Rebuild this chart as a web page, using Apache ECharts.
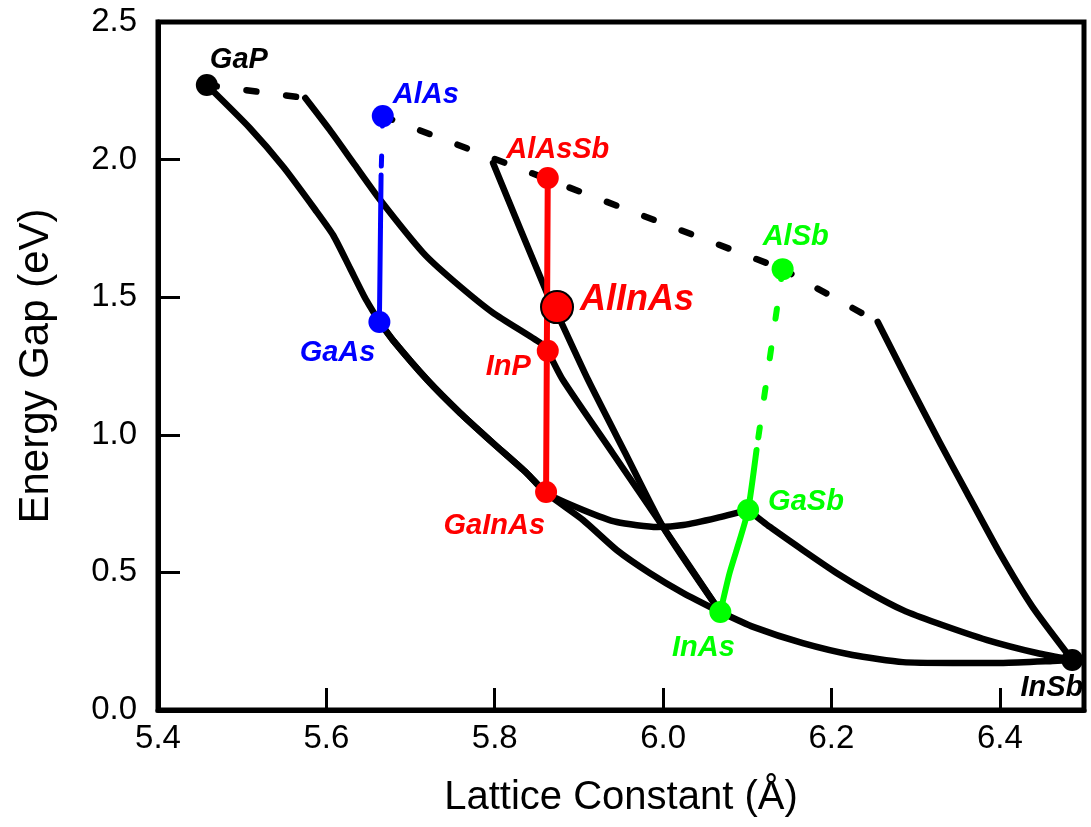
<!DOCTYPE html>
<html>
<head>
<meta charset="utf-8">
<title>Energy Gap vs Lattice Constant</title>
<script src="https://cdn.jsdelivr.net/npm/echarts@6.0.0/dist/echarts.min.js"></script>
<style>
  html, body { margin: 0; padding: 0; background: #fff; }
  #chart { width: 1091px; height: 827px; }
</style>
</head>
<body>
<div id="chart"></div>
<script>
// compounds shown as dots
const compounds = ['GaP', 'AlAs', 'GaAs', 'AlAsSb', 'AlInAs', 'InP', 'GaInAs', 'AlSb', 'GaSb', 'InAs', 'InSb']
const latticeConst = [5.458, 5.667, 5.663, 5.863, 5.874, 5.863, 5.861, 6.142, 6.101, 6.068, 6.486]
const energyGap = [2.271, 2.158, 1.410, 1.933, 1.464, 1.305, 0.792, 1.602, 0.727, 0.356, 0.182]

const xTicks = [5.4, 5.6, 5.8, 6.0, 6.2, 6.4]
const yTicks = [0.0, 0.5, 1.0, 1.5, 2.0, 2.5]

// alloy curves (x = lattice constant, y = gap)
const gaAsPX = [5.458, 5.509, 5.549, 5.587, 5.608, 5.628, 5.646, 5.663]
const gaAsPY = [2.271, 2.115, 1.973, 1.817, 1.726, 1.606, 1.497, 1.410]

const gaInAsX = [5.663, 5.679, 5.720, 5.759, 5.798, 5.838, 5.861, 5.905, 5.945, 5.984, 6.024, 6.068]
const gaInAsY = [1.410, 1.344, 1.199, 1.079, 0.970, 0.861, 0.789, 0.690, 0.581, 0.498, 0.425, 0.356]

const gaAsSbX = [5.663, 5.679, 5.720, 5.759, 5.798, 5.838, 5.861, 5.905, 5.945, 5.993, 6.024, 6.064, 6.101]
const gaAsSbY = [1.410, 1.344, 1.199, 1.079, 0.970, 0.861, 0.789, 0.727, 0.683, 0.665, 0.672, 0.698, 0.727]

const inAsSbX = [6.068, 6.107, 6.166, 6.225, 6.285, 6.344, 6.404, 6.463, 6.486]
const inAsSbY = [0.356, 0.302, 0.243, 0.200, 0.174, 0.171, 0.171, 0.178, 0.182]

const gaInSbX = [6.101, 6.127, 6.166, 6.206, 6.246, 6.285, 6.325, 6.385, 6.444, 6.486]
const gaInSbY = [0.727, 0.665, 0.581, 0.498, 0.425, 0.363, 0.316, 0.254, 0.207, 0.182]

const gaInPIndX = [5.458, 5.575]
const gaInPIndY = [2.271, 2.224]
const gaInPX = [5.575, 5.604, 5.634, 5.664, 5.715, 5.750, 5.798, 5.854, 5.863]
const gaInPY = [2.224, 2.108, 1.980, 1.853, 1.661, 1.562, 1.443, 1.334, 1.305]

const inAsPX = [5.863, 5.881, 5.940, 6.000, 6.068]
const inAsPY = [1.305, 1.199, 0.934, 0.665, 0.356]

const alInAsX = [5.798, 5.862, 5.875, 5.911, 5.955, 6.000, 6.068]
const alInAsY = [1.988, 1.515, 1.435, 1.199, 0.934, 0.665, 0.356]

const alAsSbIndX = [5.667, 6.142]
const alAsSbIndY = [2.158, 1.602]

const alInSbIndX = [6.142, 6.255]
const alInSbIndY = [1.602, 1.410]
const alInSbX = [6.255, 6.290, 6.329, 6.361, 6.400, 6.439, 6.486]
const alInSbY = [1.410, 1.199, 0.970, 0.789, 0.570, 0.374, 0.182]

// coloured lattice-matched lines
const alGaAsIndX = [5.667, 5.665]
const alGaAsIndY = [2.158, 1.944]
const alGaAsX = [5.665, 5.663]
const alGaAsY = [1.944, 1.410]

const onInPX = [5.863, 5.861]
const onInPY = [1.933, 0.792]

const onGaSbIndX = [6.142, 6.111]
const onGaSbIndY = [1.602, 0.945]
const onGaSbX = [6.111, 6.101, 6.091, 6.079, 6.068]
const onGaSbY = [0.945, 0.727, 0.618, 0.498, 0.356]

const BLUE = '#0000ff'
const RED = '#ff0000'
const GREEN = '#00ff00'
const BLACK = '#000000'
const FONT = '"Liberation Sans", Arial, sans-serif'

// dot colour + label placement
const dotStyle = {
  GaP: { color: BLACK, align: 'left', offset: [3, -25] },
  AlAs: { color: BLUE, align: 'left', offset: [10, -21] },
  GaAs: { color: BLUE, align: 'right', offset: [-4, 31] },
  AlAsSb: { color: RED, align: 'center', offset: [10, -28] },
  AlInAs: { color: RED, align: 'left', offset: [23, -7], size: 32, font: 36, border: true },
  InP: { color: RED, align: 'right', offset: [-17, 16] },
  GaInAs: { color: RED, align: 'right', offset: [-1, 34] },
  AlSb: { color: GREEN, align: 'left', offset: [-20, -32] },
  GaSb: { color: GREEN, align: 'left', offset: [20, -8] },
  InAs: { color: GREEN, align: 'center', offset: [-17, 36] },
  InSb: { color: BLACK, align: 'right', offset: [11, 28] }
}

const zip = (xs, ys) => xs.map((x, i) => [x, ys[i]])

const curve = (xs, ys, color, dashed, width) => ({
  type: 'line',
  data: zip(xs, ys),
  symbol: 'none',
  smooth: xs.length > 2 ? 0.2 : false,
  silent: true,
  lineStyle: {
    color: color,
    width: width || 6.5,
    type: dashed ? [10, 30] : 'solid',
    cap: 'round',
    join: 'round',
    opacity: 1
  }
})

const dots = compounds.map((name, i) => {
  const s = dotStyle[name]
  return {
    name: name,
    value: [latticeConst[i], energyGap[i]],
    symbolSize: s.size || 22,
    itemStyle: {
      color: s.color,
      opacity: 1,
      borderColor: s.border ? BLACK : s.color,
      borderWidth: s.border ? 2 : 0
    },
    label: {
      show: true,
      formatter: '{b}',
      position: 'inside',
      align: s.align,
      verticalAlign: 'middle',
      offset: s.offset,
      color: s.color,
      opacity: 1,
      fontSize: s.font || 29,
      fontStyle: 'italic',
      fontWeight: 'bold',
      fontFamily: FONT
    }
  }
})

const chart = echarts.init(document.getElementById('chart'))

const option = {
  animation: false,
  backgroundColor: '#fff',
  grid: {
    left: 158, right: 7, top: 22, bottom: 117,
    show: true,
    borderColor: BLACK,
    borderWidth: 5
  },
  xAxis: {
    type: 'value',
    min: 5.4,
    max: 6.5,
    interval: 0.2,
    name: 'Lattice Constant (Å)',
    nameLocation: 'middle',
    nameGap: 68,
    nameTextStyle: { color: BLACK, fontSize: 40, fontFamily: FONT },
    axisLine: { lineStyle: { color: BLACK, width: 5 } },
    axisTick: { inside: true, length: 22, lineStyle: { color: BLACK, width: 3 } },
    splitLine: { show: false },
    axisLabel: {
      color: BLACK,
      fontSize: 33,
      fontFamily: FONT,
      margin: 12,
      showMaxLabel: false,
      formatter: v => xTicks.some(t => Math.abs(t - v) < 1e-6) ? v.toFixed(1) : ''
    }
  },
  yAxis: {
    type: 'value',
    min: 0,
    max: 2.5,
    interval: 0.5,
    name: 'Energy Gap (eV)',
    nameLocation: 'middle',
    nameGap: 101,
    nameTextStyle: { color: BLACK, fontSize: 42, fontFamily: FONT },
    axisLine: { lineStyle: { color: BLACK, width: 5 } },
    axisTick: { inside: true, length: 22, lineStyle: { color: BLACK, width: 3 } },
    splitLine: { show: false },
    axisLabel: {
      color: BLACK,
      fontSize: 33,
      fontFamily: FONT,
      margin: 21,
      formatter: v => yTicks.some(t => Math.abs(t - v) < 1e-6) ? v.toFixed(1) : ''
    }
  },
  series: [
    curve(gaAsPX, gaAsPY, BLACK),
    curve(gaInAsX, gaInAsY, BLACK),
    curve(gaAsSbX, gaAsSbY, BLACK),
    curve(inAsSbX, inAsSbY, BLACK),
    curve(gaInSbX, gaInSbY, BLACK),
    curve(gaInPIndX, gaInPIndY, BLACK, true),
    curve(gaInPX, gaInPY, BLACK),
    curve(inAsPX, inAsPY, BLACK),
    curve(alInAsX, alInAsY, BLACK),
    curve(alAsSbIndX, alAsSbIndY, BLACK, true),
    curve(alInSbIndX, alInSbIndY, BLACK, true),
    curve(alInSbX, alInSbY, BLACK),
    curve(alGaAsIndX, alGaAsIndY, BLUE, true, 5),
    curve(alGaAsX, alGaAsY, BLUE, false, 5),
    curve(onInPX, onInPY, RED, false, 6),
    curve(onGaSbIndX, onGaSbIndY, GREEN, true, 6),
    curve(onGaSbX, onGaSbY, GREEN, false, 6),
    {
      type: 'scatter',
      data: dots,
      symbol: 'circle',
      silent: true,
      z: 5
    }
  ]
}

chart.setOption(option)
</script>
</body>
</html>
